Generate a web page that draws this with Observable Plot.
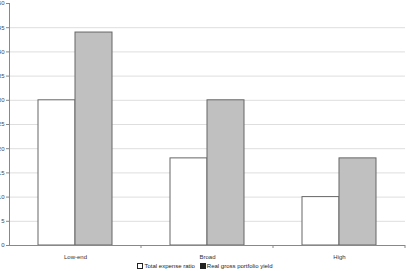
<!DOCTYPE html>
<html>
<head>
<meta charset="utf-8">
<script src="https://cdn.jsdelivr.net/npm/d3@7"></script>
<script src="https://cdn.jsdelivr.net/npm/@observablehq/plot@0.6"></script>
<style>
  body { margin: 0; background: white; font-family: "Liberation Sans", Arial, sans-serif; }
  #legend { display: flex; justify-content: center; gap: 5px; font-size: 6px; color: #222; height: 10px; align-items: center; margin-left: 4px; }
  .item { display: flex; align-items: center; }
  .sw { width: 4px; height: 4px; border: 0.8px solid #222; margin-right: 1px; display: inline-block; }
</style>
</head>
<body>
<div id="chart"></div>
<div id="legend"></div>
<script>
const categories = ["Low-end", "Broad", "High"];
const series = ["Total expense ratio", "Real gross portfolio yield"];
const expenseRatio = [30, 18, 10];
const grossYield = [44, 30, 18];
const yTicks = [0, 5, 10, 15, 20, 25, 30, 35, 40, 45, 50];
const seriesFill = ["white", "#c0c0c0"];
const legendSwatch = ["white", "#222"];

const data = [];
categories.forEach((c, i) => {
  data.push({category: c, series: series[0], value: expenseRatio[i]});
  data.push({category: c, series: series[1], value: grossYield[i]});
});

const chart = Plot.plot({
  width: 406,
  height: 261,
  marginLeft: 9,
  marginRight: 1,
  marginTop: 3,
  marginBottom: 16,
  style: {fontFamily: "'Liberation Sans', Arial, sans-serif", fontSize: "6px", overflow: "visible", color: "#333"},
  fx: {domain: categories, padding: 0, label: null},
  x: {domain: series, paddingInner: 0, paddingOuter: 0.76, axis: null},
  y: {domain: [0, 50], label: null},
  color: {domain: series, range: seriesFill},
  marks: [
    Plot.ruleY(yTicks.slice(1, -1), {stroke: "#dedede", strokeWidth: 1}),
    Plot.barY(data, {fx: "category", x: "series", y: "value", fill: "series", stroke: "#666", strokeWidth: 1}),
    Plot.ruleY([0], {stroke: "#888", strokeWidth: 1}),
    Plot.axisY({ticks: yTicks, tickSize: 3, tickPadding: 2, stroke: "#888", fill: "#444", label: null}),
    Plot.frame({anchor: "left", stroke: "#888", facetAnchor: "left"}),
    Plot.axisFx({anchor: "bottom", tickSize: 0, tickPadding: 9, label: null, fill: "#333"})
  ]
});
document.getElementById("chart").appendChild(chart);

// small tick marks at category boundaries, positioned from the fx scale
const fx = chart.scale("fx");
const y = chart.scale("y");
const y0 = y.apply(0);
const g = d3.select(chart).append("g").attr("stroke", "#888");
categories.forEach(c => {
  const xb = fx.apply(c) + fx.bandwidth;
  g.append("line").attr("x1", xb).attr("x2", xb).attr("y1", y0).attr("y2", y0 + 3);
});

const legend = d3.select("#legend");
series.forEach((s, i) => {
  const it = legend.append("span").attr("class", "item");
  it.append("span").attr("class", "sw").style("background", legendSwatch[i]);
  it.append("span").text(s);
});
</script>
</body>
</html>
